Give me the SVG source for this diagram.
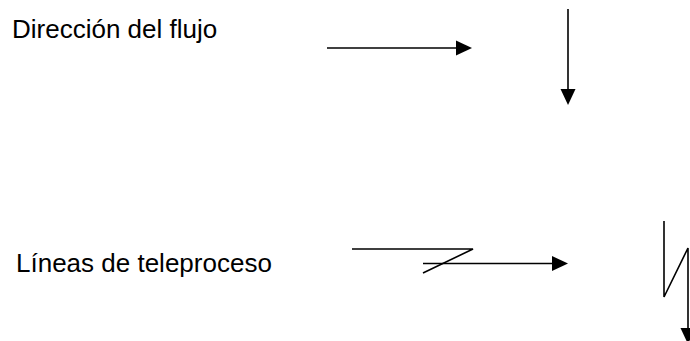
<svg xmlns="http://www.w3.org/2000/svg" width="690" height="341" viewBox="0 0 690 341">
  <style>
    .label { font-family: "Liberation Sans", Arial, sans-serif; font-size: 26px; fill: #000; }
    .line { fill: none; stroke: #000; stroke-width: 1.6; }
    .head { fill: #000; stroke: none; }
  </style>
  <rect width="690" height="341" fill="#fff"/>

  <g id="label-flujo">
    <text class="label" x="12" y="38">Dirección del flujo</text>
  </g>
  <g id="label-teleproceso">
    <text class="label" x="16" y="272">Líneas de teleproceso</text>
  </g>

  <g id="connectors">
    <!-- flow direction, horizontal -->
    <g id="flow-right">
      <line class="line" x1="327" y1="48" x2="457" y2="48"/>
      <polygon class="head" points="456,40.5 472,48 456,55.5"/>
    </g>
    <!-- flow direction, vertical -->
    <g id="flow-down">
      <line class="line" x1="568" y1="9" x2="568" y2="90"/>
      <polygon class="head" points="560.5,89 568,105 575.5,89"/>
    </g>
    <!-- teleprocessing line, horizontal -->
    <g id="tele-right">
      <polyline class="line" points="352,249 473,249 423,273"/>
      <line class="line" x1="423" y1="263.5" x2="553" y2="263.5"/>
      <polygon class="head" points="552,256 568,263.5 552,271"/>
    </g>
    <!-- teleprocessing line, vertical -->
    <g id="tele-down">
      <polyline class="line" points="664,221 664,297 688,248 688,329"/>
      <polygon class="head" points="680.5,328 688,344 695.5,328"/>
    </g>
  </g>
</svg>
